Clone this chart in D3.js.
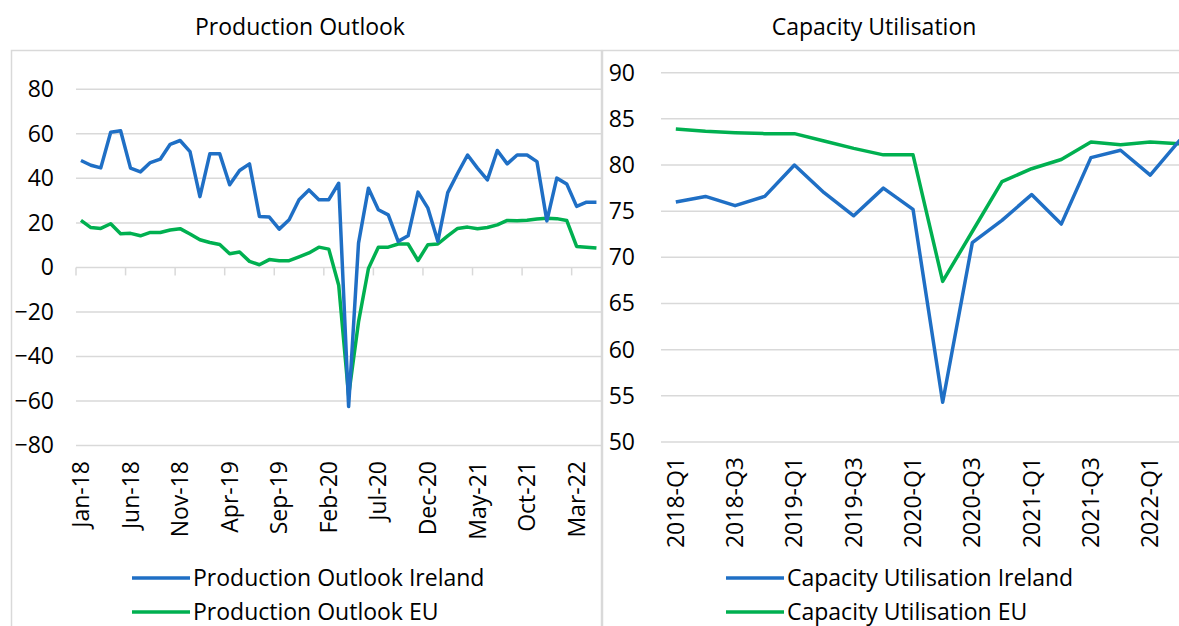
<!DOCTYPE html>
<html>
<head>
<meta charset="utf-8">
<script src="https://cdn.jsdelivr.net/npm/d3@7"></script>
<style>
  body { margin: 0; background: #fff; }
  svg { display: block; font-family: "Open Sans", sans-serif; }
</style>
</head>
<body>
<svg id="canvas" width="1179" height="626"></svg>
<script>
// monthly categories Jan-18 .. May-22
var months = d3.utcMonth.range(new Date(Date.UTC(2018, 0, 1)), new Date(Date.UTC(2022, 5, 1)));
var monthTicks = ["Jan-18", "Jun-18", "Nov-18", "Apr-19", "Sep-19", "Feb-20", "Jul-20", "Dec-20", "May-21", "Oct-21", "Mar-22"];

var prodIreland = [48, 45.9, 44.7, 60.7, 61.4, 44.6, 42.9, 47.1, 48.6, 55.3, 57, 52, 31.8, 51, 51, 37.1,
    43.5, 46.5, 22.9, 22.6, 17.2, 21.4, 30.4, 34.8, 30.4, 30.4, 37.8, -62.5, 10.9, 35.6, 25.9, 23.6,
    11.7, 14.2, 33.8, 26.6, 11.7, 33.6, 42.3, 50.5, 44.6, 39.3, 52.5, 46.5, 50.5, 50.5, 47.5, 20.9,
    40.1, 37.5, 27.4, 29.3, 29.3];
var prodEU = [21.1, 17.9, 17.5, 19.6, 15.1, 15.3, 14.2, 15.7, 15.7, 16.8, 17.4, 15, 12.4, 11.2, 10.3, 6.1,
    6.9, 2.7, 1.2, 3.5, 3, 3, 4.7, 6.5, 9.1, 8.2, -8, -57.5, -24.5, -0.5, 9.1, 9.1,
    10.5, 10.5, 3.1, 10.2, 10.5, 14.2, 17.5, 18.1, 17.4, 17.9, 19.1, 21.1, 21, 21.2, 21.7, 22.1,
    21.9, 21.1, 9.4, 9.1, 8.7];
var prodTicks = [-80, -60, -40, -20, 0, 20, 40, 60, 80];

var quarters = ["2018-Q1", "2018-Q2", "2018-Q3", "2018-Q4", "2019-Q1", "2019-Q2", "2019-Q3", "2019-Q4",
    "2020-Q1", "2020-Q2", "2020-Q3", "2020-Q4", "2021-Q1", "2021-Q2", "2021-Q3", "2021-Q4", "2022-Q1", "2022-Q2"];
var quarterTicks = ["2018-Q1", "2018-Q3", "2019-Q1", "2019-Q3", "2020-Q1", "2020-Q3", "2021-Q1", "2021-Q3", "2022-Q1"];
var capIreland = [76, 76.6, 75.6, 76.6, 80, 77, 74.5, 77.5, 75.2, 54.3, 71.6, 74, 76.8, 73.6, 80.8, 81.6, 78.9, 82.7];
var capEU = [83.9, 83.65, 83.5, 83.4, 83.4, 82.6, 81.8, 81.1, 81.1, 67.4, 72.8, 78.2, 79.6, 80.6, 82.5, 82.2, 82.5, 82.3];
var capTicks = [50, 55, 60, 65, 70, 75, 80, 85, 90];

var blue = "#1f6fc5";
var green = "#00b050";
var grid = "#d9d9d9";
var fs = '23px';
var fmtMonth = d3.utcFormat("%b-%y");

var svg = d3.select('#canvas');

function panel(opt) {
    var g = svg.append('g');

    // chart area border
    g.append('rect')
        .attr('x', opt.box[0] + 0.5)
        .attr('y', opt.box[1] + 0.5)
        .attr('width', opt.box[2])
        .attr('height', 700)
        .style('fill', 'none')
        .style('stroke', grid)
        .style('stroke-width', 1.5);

    g.append('text')
        .attr('x', opt.titleX)
        .attr('y', 35)
        .attr('text-anchor', 'middle')
        .style('font-size', fs)
        .text(opt.title);

    var x = d3.scaleBand()
        .domain(opt.cats)
        .range(opt.xRange)
        .padding(0);

    var y = d3.scaleLinear()
        .domain(opt.yDomain)
        .range(opt.yRange);

    var cx = function(d, i) {
        return x(opt.cats[i]) + x.bandwidth() / 2;
    };

    var plot = g.append('g');

    plot.selectAll('line.grid')
        .data(opt.yTicks)
        .enter()
        .append('line')
        .attr('class', 'grid')
        .attr('x1', opt.xRange[0])
        .attr('x2', opt.xRange[1])
        .attr('y1', function(d) { return y(d); })
        .attr('y2', function(d) { return y(d); })
        .style('stroke', grid)
        .style('stroke-width', 1.5);

    var yAxis = d3.axisLeft(y)
        .tickValues(opt.yTicks)
        .tickSize(0)
        .tickPadding(opt.yPad);
    var ya = g.append('g')
        .attr('transform', 'translate(' + opt.xRange[0] + ',0)')
        .call(yAxis);
    ya.select('.domain').remove();
    ya.selectAll('text')
        .style('font-size', fs)
        .style('fill', '#000')
        .style('font-family', '"Open Sans", sans-serif');

    // category ticks on the base line
    if (opt.tickEvery) {
        var tickPos = [];
        for (var k = 0; k * opt.tickEvery < opt.cats.length; k++) {
            tickPos.push(x(opt.cats[k * opt.tickEvery]));
        }
        plot.selectAll('line.tick')
            .data(tickPos)
            .enter()
            .append('line')
            .attr('x1', function(d) { return d; })
            .attr('x2', function(d) { return d; })
            .attr('y1', y(opt.baseValue))
            .attr('y2', y(opt.baseValue) + 8)
            .style('stroke', grid)
            .style('stroke-width', 1.5);
    }

    g.selectAll('text.xlab')
        .data(opt.labelCats)
        .enter()
        .append('text')
        .attr('class', 'xlab')
        .attr('transform', function(d) {
            var px = x(d) + x.bandwidth() / 2;
            return 'translate(' + px + ',' + opt.labelY + ') rotate(-90)';
        })
        .attr('dy', '0.35em')
        .attr('text-anchor', 'end')
        .style('font-size', fs)
        .text(function(d) { return opt.labelFmt ? opt.labelFmt(d) : d; });

    var line = d3.line()
        .x(cx)
        .y(function(d) { return y(d); });

    plot.append('path')
        .datum(opt.s2)
        .attr('d', line)
        .style('fill', 'none')
        .style('stroke', green)
        .style('stroke-width', 3.5)
        .style('stroke-linejoin', 'round');

    plot.append('path')
        .datum(opt.s1)
        .attr('d', line)
        .style('fill', 'none')
        .style('stroke', blue)
        .style('stroke-width', 3.5)
        .style('stroke-linejoin', 'round');

    // legend
    var leg = g.selectAll('g.leg')
        .data([[opt.n1, blue], [opt.n2, green]])
        .enter()
        .append('g')
        .attr('transform', function(d, i) {
            return 'translate(' + opt.legX + ',' + (578 + i * 34) + ')';
        });
    leg.append('line')
        .attr('x1', 0)
        .attr('x2', 58)
        .style('stroke', function(d) { return d[1]; })
        .style('stroke-width', 3.5);
    leg.append('text')
        .attr('x', 61)
        .attr('dy', '0.35em')
        .style('font-size', fs)
        .text(function(d) { return d[0]; });
}

panel({
    box: [11, 50, 590],
    title: "Production Outlook",
    titleX: 300,
    cats: months,
    xRange: [76, 601.4],
    yDomain: [-80, 80],
    yRange: [445.5, 89.3],
    yTicks: prodTicks,
    yPad: 22,
    tickEvery: 5,
    baseValue: 0,
    labelCats: months.filter(function(d) { return monthTicks.indexOf(fmtMonth(d)) >= 0; }),
    labelFmt: fmtMonth,
    labelY: 461,
    s1: prodIreland,
    s2: prodEU,
    n1: "Production Outlook Ireland",
    n2: "Production Outlook EU",
    legX: 132
});

panel({
    box: [602, 50, 600],
    title: "Capacity Utilisation",
    titleX: 874,
    cats: quarters,
    xRange: [661, 1194.7],
    yDomain: [50, 90],
    yRange: [442, 72.7],
    yTicks: capTicks,
    yPad: 26,
    tickEvery: 0,
    baseValue: 50,
    labelCats: quarterTicks,
    labelY: 457,
    s1: capIreland,
    s2: capEU,
    n1: "Capacity Utilisation Ireland",
    n2: "Capacity Utilisation EU",
    legX: 726
});
</script>
</body>
</html>
